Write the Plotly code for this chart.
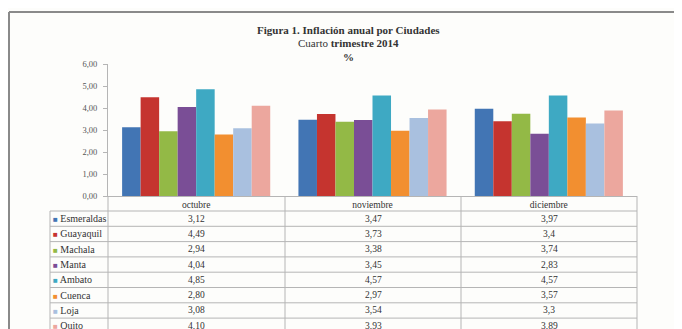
import plotly.graph_objects as go

# data as printed in the table (comma decimals)
months = ["octubre", "noviembre", "diciembre"]
cities = ["Esmeraldas", "Guayaquil", "Machala", "Manta", "Ambato", "Cuenca", "Loja", "Quito"]
octubre = ["3,12", "4,49", "2,94", "4,04", "4,85", "2,80", "3,08", "4,10"]
noviembre = ["3,47", "3,73", "3,38", "3,45", "4,57", "2,97", "3,54", "3,93"]
diciembre = ["3,97", "3,4", "3,74", "2,83", "4,57", "3,57", "3,3", "3,89"]
colors = ["#4275b4", "#c5342f", "#93b946", "#7a4e96", "#3ea9c3", "#f28f30", "#a9c0df", "#eca79e"]

# page body has an 8px margin, so work in window pixels and shift
OFF = 8
W, H = 682 - OFF, 329 - OFF
L, R, T, B = 108, 637, 64, 196  # plot area in window pixels
FONT = "Liberation Serif"
GRID = "#b5b5b5"


def px(x):
    return (x - L) / (R - L)


def py(y):
    return (B - y) / (B - T)


def num(s):
    return float(s.replace(",", "."))


fig = go.Figure()
for i, city in enumerate(cities):
    vals = [num(octubre[i]), num(noviembre[i]), num(diciembre[i])]
    fig.add_trace(go.Bar(x=months, y=vals, name=city, marker_color=colors[i],
                         marker_line_width=0))

shapes = []
anns = []

# outer frame of the scanned figure
shapes.append(dict(type="line", xref="paper", yref="paper", x0=px(9), x1=px(700),
                   y0=py(12), y1=py(12), line=dict(color="#8a8a8a", width=2)))
shapes.append(dict(type="line", xref="paper", yref="paper", x0=px(9), x1=px(9),
                   y0=py(12), y1=py(360), line=dict(color="#8a8a8a", width=2)))

# data table below the chart
row_h = 15.3
top = 211
n = len(cities)
bottom = top + row_h * n
col_edges = [L, 285, 461, R]
for x in col_edges:
    shapes.append(dict(type="line", xref="paper", yref="paper", x0=px(x), x1=px(x),
                       y0=py(B), y1=py(bottom), line=dict(color=GRID, width=1)))
shapes.append(dict(type="line", xref="paper", yref="paper", x0=px(50), x1=px(50),
                   y0=py(top), y1=py(bottom), line=dict(color=GRID, width=1)))
for k in range(n + 1):
    y = top + row_h * k
    shapes.append(dict(type="line", xref="paper", yref="paper", x0=px(50), x1=px(R),
                       y0=py(y), y1=py(y), line=dict(color=GRID, width=1)))

cols = [octubre, noviembre, diciembre]
for i, city in enumerate(cities):
    yc = top + row_h * (i + 0.5)
    anns.append(dict(xref="paper", yref="paper", x=px(51), y=py(yc), xanchor="left",
                     yanchor="middle", showarrow=False,
                     text=f"<span style='color:{colors[i]};font-size:8px'>■</span> {city}",
                     font=dict(family=FONT, size=10, color="#333")))
    for j, col in enumerate(cols):
        xc = (col_edges[j] + col_edges[j + 1]) / 2
        anns.append(dict(xref="paper", yref="paper", x=px(xc), y=py(yc), xanchor="center",
                         yanchor="middle", showarrow=False, text=col[i],
                         font=dict(family=FONT, size=9.5, color="#333")))

# titles
for text, y in [("<b>Figura 1. Inflación anual por Ciudades</b>", 30),
                ("Cuarto <b>trimestre 2014</b>", 43),
                ("<b>%</b>", 57)]:
    anns.append(dict(xref="paper", yref="paper", x=px(348), y=py(y), xanchor="center",
                     yanchor="middle", showarrow=False, text=text,
                     font=dict(family=FONT, size=11, color="#333")))

fig.update_layout(
    width=W, height=H,
    margin=dict(l=L - OFF, r=W + OFF - R, t=T - OFF, b=H + OFF - B),
    paper_bgcolor="#fdfdfb",
    plot_bgcolor="#fdfdfb",
    barmode="group",
    bargap=0.16,
    bargroupgap=0,
    showlegend=False,
    separators=",.",
    font=dict(family=FONT, size=9, color="#444"),
    shapes=shapes,
    annotations=anns,
    xaxis=dict(showgrid=False, showline=True, linecolor=GRID, ticks="",
               tickfont=dict(family=FONT, size=9.5, color="#333")),
    yaxis=dict(range=[0, 6], dtick=1, tickformat=".2f", showgrid=False, zeroline=False,
               showline=True, linecolor=GRID, ticks="outside", ticklen=4, tickcolor=GRID,
               ticklabelstandoff=4,
               tickfont=dict(family=FONT, size=8.5, color="#555")),
)

fig.write_html("out.html")
